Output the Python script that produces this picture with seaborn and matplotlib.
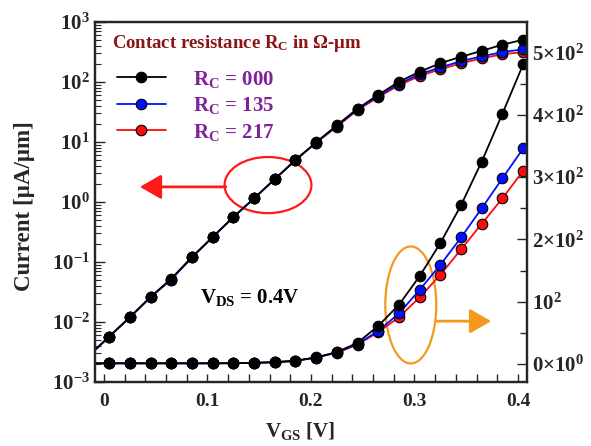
import numpy as np
import pandas as pd
import matplotlib
matplotlib.use('Agg')
import matplotlib.pyplot as plt
import seaborn as sns
from matplotlib.lines import Line2D
from matplotlib.patches import Ellipse, FancyArrowPatch
from matplotlib.ticker import MultipleLocator, LogLocator, NullFormatter

# gate voltage (first point only extends the line to the axis edge)
vgs = [-0.015, 0.005, 0.025, 0.045, 0.065, 0.085, 0.105, 0.125, 0.145, 0.165, 0.185,
       0.205, 0.225, 0.245, 0.265, 0.285, 0.305, 0.325, 0.345, 0.365, 0.385, 0.405]

# current on log axis [uA/um]
log_000 = [0.0027, 0.0057, 0.012, 0.026, 0.053, 0.12, 0.26, 0.56, 1.15, 2.4, 5.0,
           9.9, 19, 36, 61, 101, 148, 206, 263, 330, 420, 505]
log_135 = [0.0027, 0.0057, 0.012, 0.026, 0.051, 0.12, 0.26, 0.56, 1.15, 2.4, 5.0,
           9.8, 18.5, 35, 58, 93, 135, 175, 222, 268, 315, 350]
log_217 = [0.0027, 0.0057, 0.012, 0.026, 0.051, 0.12, 0.26, 0.56, 1.15, 2.4, 5.0,
           9.7, 18, 34, 56, 88, 126, 163, 205, 248, 290, 315]

# current on linear axis [uA/um]
lin_000 = [1.0, 1.0, 1.0, 1.0, 1.0, 1.0, 1.0, 1.2, 1.8, 2.8, 5.0,
           10.5, 19, 34, 61, 95, 141, 194, 255, 325, 402, 481]
lin_135 = [1.0, 1.0, 1.0, 1.0, 1.0, 1.0, 1.0, 1.2, 1.8, 2.8, 5.0,
           10.3, 18.5, 32, 53, 81, 119, 159, 203, 250, 298, 346]
lin_217 = [1.0, 1.0, 1.0, 1.0, 1.0, 1.0, 1.0, 1.2, 1.8, 2.8, 5.0,
           10.2, 18, 31, 51, 75, 107, 143, 184, 225, 266, 310]

rc_labels = ['000', '135', '217']
colors = {'000': '#000000', '135': '#0010ff', '217': '#ff0a0a'}

rows = []
for lab, lg, ln in zip(rc_labels, [log_000, log_135, log_217], [lin_000, lin_135, lin_217]):
    for v, a, b in zip(vgs, lg, ln):
        rows.append({'vgs': v, 'rc': lab, 'log_i': a, 'lin_i': b})
df = pd.DataFrame(rows)

sns.set_style('ticks')
plt.rcParams['font.family'] = ['Liberation Serif', 'DejaVu Serif']
plt.rcParams['font.weight'] = 'bold'
plt.rcParams['mathtext.fontset'] = 'custom'
plt.rcParams['mathtext.rm'] = 'Liberation Serif:bold'
plt.rcParams['mathtext.it'] = 'Liberation Serif:bold'
plt.rcParams['mathtext.bf'] = 'Liberation Serif:bold'

fig = plt.figure(figsize=(5.91, 4.46), dpi=100)
ax = fig.add_axes([0.1607, 0.1435, 0.731, 0.8072])
ax2 = ax.twinx()

order = ['217', '135', '000']  # black drawn last
line_kw = dict(marker='o', markersize=7.6, markeredgecolor='black', markeredgewidth=0.8,
               linewidth=1.3, markevery=slice(1, None), legend=False, sort=False)
sns.lineplot(data=df, x='vgs', y='log_i', hue='rc', hue_order=order, palette=colors,
             ax=ax, **line_kw)
sns.lineplot(data=df, x='vgs', y='lin_i', hue='rc', hue_order=order, palette=colors,
             ax=ax2, **line_kw)

ax.set_yscale('log')
ax.set_ylim(1e-3, 1e3)
ax.set_xlim(-0.0087, 0.4087)
ax2.set_ylim(-29, 549)

ax.set_xticks([0, 0.1, 0.2, 0.3, 0.4])
ax.set_xticklabels(['0', '0.1', '0.2', '0.3', '0.4'])
ax.xaxis.set_minor_locator(MultipleLocator(0.02))
ax.set_yticks([1e-3, 1e-2, 1e-1, 1e0, 1e1, 1e2, 1e3])
ax.set_yticklabels([r'$10^{-3}$', r'$10^{-2}$', r'$10^{-1}$', r'$10^{0}$',
                    r'$10^{1}$', r'$10^{2}$', r'$10^{3}$'])
ax.yaxis.set_minor_locator(LogLocator(base=10, subs=np.arange(2, 10), numticks=20))
ax.yaxis.set_minor_formatter(NullFormatter())

ax2.set_yticks([0, 100, 200, 300, 400, 500])
ax2.set_yticklabels([r'0×10$^{0}$', r'10$^{2}$', r'2×10$^{2}$', r'3×10$^{2}$',
                     r'4×10$^{2}$', r'5×10$^{2}$'])
ax2.yaxis.set_minor_locator(MultipleLocator(50))

ax.tick_params(axis='x', which='both', direction='in', length=6, width=1, labelsize=14, pad=8)
ax.tick_params(axis='y', which='major', direction='in', length=7, width=1, labelsize=15)
ax.tick_params(axis='y', which='minor', direction='in', length=4, width=0.8)
ax2.tick_params(axis='y', which='major', direction='in', length=7, width=1, labelsize=15)
ax2.tick_params(axis='y', which='minor', direction='in', length=5, width=1)

for a in (ax, ax2):
    for s in a.spines.values():
        s.set_linewidth(1.6)
        s.set_visible(True)

ax.set_xlabel(r'V$_{\mathrm{GS}}$ [V]', fontsize=15, fontweight='bold')
ax.xaxis.set_label_coords(0.4745, -0.105)
ax.set_ylabel('Current [μA/μm]', fontsize=16.6, fontweight='bold')
ax.yaxis.set_label_coords(-0.138, 0.49)
ax2.set_ylabel('')

ax.text(0.039, 0.939, r'Contact resistance R$_{C}$ in Ω-μm', transform=ax.transAxes,
        color='#8b1414', fontsize=13.5, fontweight='bold', va='center', ha='left')
ax.text(0.243, 0.236, r'V$_{\mathrm{DS}}$ = 0.4V', transform=ax.transAxes,
        color='black', fontsize=15, fontweight='bold', va='center', ha='left')

handles = [Line2D([], [], color=colors[k], marker='o', markersize=7.6,
                  markerfacecolor=colors[k], markeredgecolor='black',
                  markeredgewidth=0.8, linewidth=1.3) for k in rc_labels]
labels = [f'R$_{{C}}$ = {k}' for k in rc_labels]
ax.legend(handles, labels, loc='upper left', bbox_to_anchor=(0.05, 0.87),
          frameon=False, borderpad=0, borderaxespad=0, handlelength=2.35,
          handletextpad=1.3, labelspacing=0.26, labelcolor='#80209a',
          prop={'family': 'Liberation Serif', 'weight': 'bold', 'size': 15})

arrow_style = '-|>,head_length=13,head_width=7.5'
# red ellipse + arrow (log axis)
ax.add_patch(Ellipse((0.4005, 0.547), 0.201, 0.156, transform=ax.transAxes,
                     fill=False, edgecolor='#ff1a1a', linewidth=1.6))
ax.add_patch(FancyArrowPatch((0.303, 0.542), (0.104, 0.542), transform=ax.transAxes,
                             arrowstyle=arrow_style, color='#ff1a1a',
                             linewidth=2, shrinkA=0, shrinkB=0))
# orange ellipse + arrow (linear axis)
ax.add_patch(Ellipse((0.731, 0.214), 0.118, 0.325, transform=ax.transAxes,
                     fill=False, edgecolor='#f39a1e', linewidth=1.6))
ax.add_patch(FancyArrowPatch((0.79, 0.169), (0.917, 0.169), transform=ax.transAxes,
                             arrowstyle=arrow_style, color='#f39a1e',
                             linewidth=2, shrinkA=0, shrinkB=0))

fig.savefig('out.png', dpi=100)
